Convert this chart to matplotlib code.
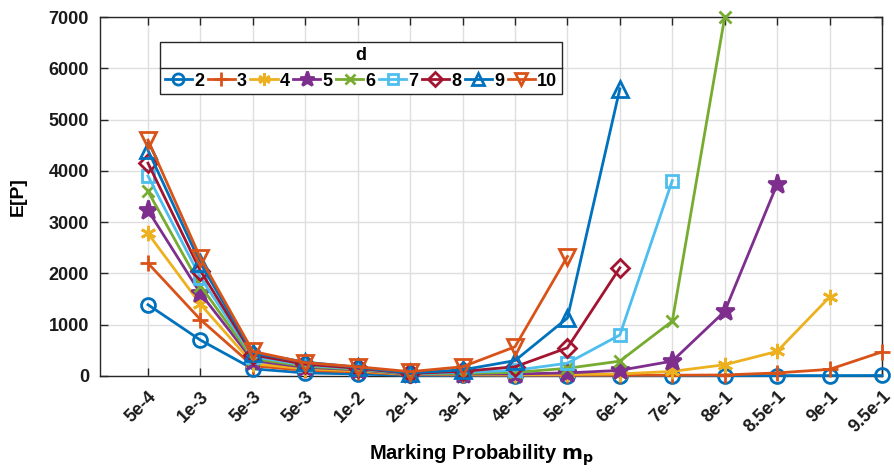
import matplotlib
matplotlib.use("Agg")
import matplotlib.pyplot as plt
import matplotlib.transforms as mtransforms
import numpy as np
from matplotlib.lines import Line2D

plt.rcParams['font.family'] = ['Liberation Sans', 'DejaVu Sans']
plt.rcParams['font.weight'] = 'bold'

categories = ['5e-4', '1e-3', '5e-3', '5e-3', '1e-2', '2e-1', '3e-1', '4e-1',
              '5e-1', '6e-1', '7e-1', '8e-1', '8.5e-1', '9e-1', '9.5e-1']

d_labels = ['2', '3', '4', '5', '6', '7', '8', '9', '10']

d2 = [1390, 700, 140, 60, 40, 10, 10, 8, 8, 8, 8, 8, 8, 8, 10]
d3 = [2200, 1100, 200, 110, 80, 25, 20, 15, 15, 15, 15, 20, 60, 130, 470]
d4 = [2780, 1400, 240, 140, 100, 30, 30, 25, 30, 40, 90, 220, 480, 1540]
d5 = [3230, 1610, 300, 170, 120, 35, 40, 40, 60, 110, 290, 1260, 3740]
d6 = [3600, 1760, 340, 190, 130, 40, 50, 70, 150, 290, 1070, 7000]
d7 = [3900, 1920, 380, 210, 140, 45, 70, 110, 250, 800, 3810]
d8 = [4150, 2050, 410, 230, 150, 50, 90, 180, 550, 2110]
d9 = [4400, 2200, 450, 270, 170, 60, 120, 300, 1130, 5600]
d10 = [4600, 2300, 480, 260, 180, 85, 180, 570, 2330]

series = [d2, d3, d4, d5, d6, d7, d8, d9, d10]

colors = ['#0072BD', '#D95319', '#EDB120', '#7E2F8E', '#77AC30',
          '#4DBEEE', '#A2142F', '#0072BD', '#D95319']
markers = ['o', '+', (6, 2, 0), '*', 'x', 's', 'D', '^', 'v']
msizes = [10, 12, 11, 14, 9, 9, 9, 11, 11]
filled = [False, False, False, True, False, False, False, False, False]

fig = plt.figure(figsize=(8.95, 4.72), dpi=100)
ax = fig.add_axes([100/895, 1-376/472, 782/895, 359/472])

x_all = np.arange(1, len(categories) + 1)
for vals, lab, c, m, ms, f in zip(series, d_labels, colors, markers, msizes, filled):
    x = x_all[:len(vals)]
    ax.plot(x, vals, color=c, marker=m, markersize=ms, linewidth=2,
            markeredgewidth=2, markerfacecolor=(c if f else 'none'),
            markeredgecolor=c, label=lab, clip_on=False, zorder=3)

ax.set_xlim(1 - 48/52.43, len(categories))
ax.set_ylim(0, 7000)
ax.set_yticks(np.arange(0, 7001, 1000))
ax.set_xticks(x_all)
ax.set_xticklabels([])
lab_tr = ax.get_xaxis_transform() + mtransforms.ScaledTranslation(
    12/100, -12/100, fig.dpi_scale_trans)
for xi, lab in zip(x_all, categories):
    ax.text(xi, 0, lab, transform=lab_tr, rotation=45, ha='right', va='top',
            fontsize=13, fontweight='bold', color='#1a1a1a')
for t in ax.get_yticklabels():
    t.set_fontsize(13)
    t.set_fontweight('bold')
ax.tick_params(direction='in', top=True, right=True, length=6, width=1,
               colors='#262626', labelcolor='#1a1a1a')
ax.tick_params(axis='y', pad=8)
ax.grid(True, color='#dfdfdf', linewidth=1)
ax.set_axisbelow(True)
for s in ax.spines.values():
    s.set_color('#262626')
    s.set_linewidth(1)

ax.set_ylabel('E[P]', fontsize=14, fontweight='bold', labelpad=16)
ax.set_xlabel(r'Marking Probability $\mathbf{m_p}$', fontsize=14.5,
              fontweight='bold')
ax.xaxis.set_label_coords(0.488, -0.185)

leg = ax.legend(ncol=9, title='d', loc='upper left',
                bbox_to_anchor=(0.077, 0.93), fontsize=13,
                title_fontproperties={'weight': 'bold', 'size': 13},
                handlelength=1.5, handletextpad=0.12, columnspacing=0.2,
                borderpad=0.25, borderaxespad=0, frameon=True, fancybox=False,
                edgecolor='#262626', framealpha=1, markerscale=0.8)
leg.get_frame().set_linewidth(1)
for t in leg.get_texts():
    t.set_fontweight('bold')

fig.canvas.draw()
r = fig.canvas.get_renderer()
fb = leg.get_frame().get_window_extent(r)
tb = leg.get_title().get_window_extent(r)
ysep = tb.y0 - 4
line = Line2D([fb.x0, fb.x1], [ysep, ysep], transform=None,
              color='#262626', linewidth=1)
fig.add_artist(line)

fig.savefig('out.png', dpi=100)
